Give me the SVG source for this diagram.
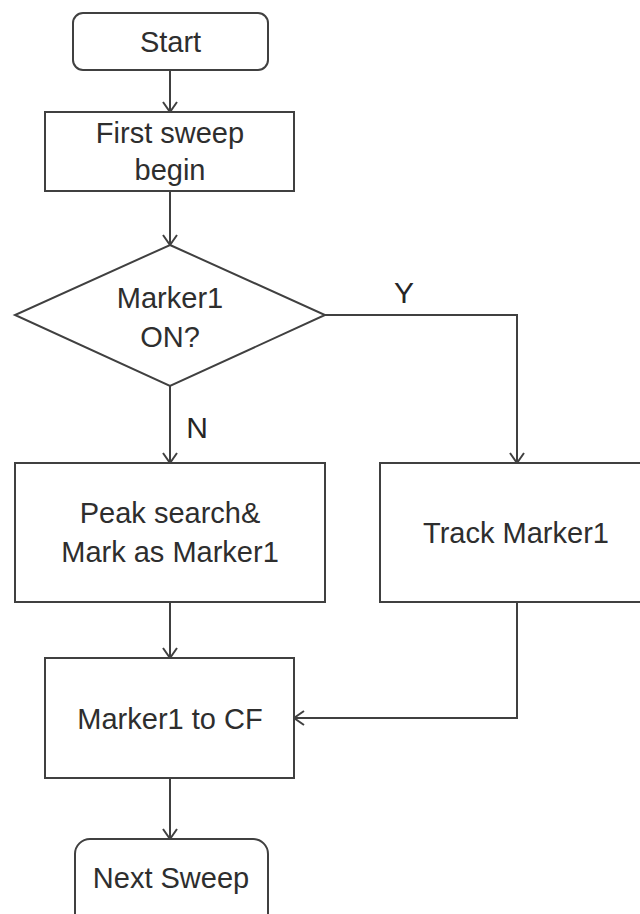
<svg xmlns="http://www.w3.org/2000/svg" width="640" height="914" viewBox="0 0 640 914">
<defs>
<style>
.box{fill:#ffffff;stroke:#404040;stroke-width:2}
.edge{fill:none;stroke:#404040;stroke-width:2}
.t{font-family:"Liberation Sans",Arial,sans-serif;font-size:29px;fill:#2e2e2e;text-anchor:middle}
.lbl{font-family:"Liberation Sans",Arial,sans-serif;font-size:30px;fill:#262626;text-anchor:middle}
</style>
<marker id="arr" markerUnits="userSpaceOnUse" markerWidth="14" markerHeight="16" refX="11" refY="8" orient="auto">
<path d="M1,1 L11,8 L1,15" fill="none" stroke="#404040" stroke-width="2"/>
</marker>
</defs>
<rect width="640" height="914" fill="#ffffff"/>
<g id="connectors">
<line class="edge" x1="170" y1="70" x2="170" y2="112" marker-end="url(#arr)"/>
<line class="edge" x1="170" y1="191" x2="170" y2="245" marker-end="url(#arr)"/>
<polyline class="edge" points="325,315 517,315 517,463" marker-end="url(#arr)"/>
<line class="edge" x1="170" y1="386" x2="170" y2="463" marker-end="url(#arr)"/>
<line class="edge" x1="170" y1="602" x2="170" y2="658" marker-end="url(#arr)"/>
<polyline class="edge" points="517,602 517,718 294,718" marker-end="url(#arr)"/>
<line class="edge" x1="170" y1="778" x2="170" y2="839" marker-end="url(#arr)"/>
<text class="lbl" x="404" y="303">Y</text>
<text class="lbl" x="197" y="438">N</text>
</g>
<g id="start">
<rect class="box" x="73" y="13" width="195" height="57" rx="10"/>
<text class="t" x="170.5" y="52">Start</text>
</g>
<g id="first-sweep">
<rect class="box" x="45" y="112" width="249" height="79"/>
<text class="t" x="170" y="143">First sweep</text>
<text class="t" x="170" y="180">begin</text>
</g>
<g id="decision">
<polygon class="box" points="170,245 325,315 170,386 15,315"/>
<text class="t" x="170" y="308">Marker1</text>
<text class="t" x="170" y="347">ON?</text>
</g>
<g id="peak-search">
<rect class="box" x="15" y="463" width="310" height="139"/>
<text class="t" x="170" y="523">Peak search&amp;</text>
<text class="t" x="170" y="562">Mark as Marker1</text>
</g>
<g id="track-marker">
<rect class="box" x="380" y="463" width="272" height="139"/>
<text class="t" x="516" y="543">Track Marker1</text>
</g>
<g id="marker-to-cf">
<rect class="box" x="45" y="658" width="249" height="120"/>
<text class="t" x="170" y="729">Marker1 to CF</text>
</g>
<g id="next-sweep">
<rect class="box" x="75" y="839" width="193" height="90" rx="15"/>
<text class="t" x="171" y="888">Next Sweep</text>
</g>
</svg>
